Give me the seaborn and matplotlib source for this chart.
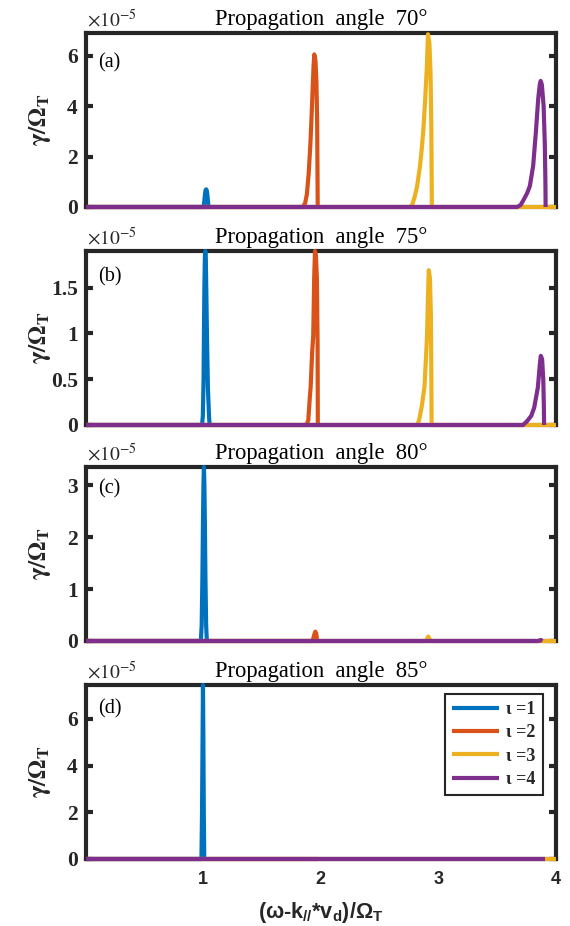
import matplotlib
matplotlib.use("Agg")
import matplotlib.pyplot as plt
import pandas as pd
import seaborn as sns

# ---- labels, colours, axes settings ----
modes = ["ι =1", "ι =2", "ι =3", "ι =4"]
colors = ["#0072BD", "#D95319", "#EDB120", "#7E2F8E"]
angles = [70, 75, 80, 85]
panel_tags = ["(a)", "(b)", "(c)", "(d)"]
y_tops = [6.9, 1.9, 3.35, 7.45]                      # in units of 1e-5
y_ticks = [[0, 2, 4, 6], [0, 0.5, 1, 1.5], [0, 1, 2, 3], [0, 2, 4, 6]]
y_tick_labels = [["0", "2", "4", "6"], ["0", "0.5", "1", "1.5"],
                 ["0", "1", "2", "3"], ["0", "2", "4", "6"]]
x_ticks = [1, 2, 3, 4]
x_tick_labels = ["1", "2", "3", "4"]

# ---- growth rate gamma/Omega_T (x1e-5) versus (w - k v_d)/Omega_T ----
# panel (a): 70 deg
a1_x = [0.01, 1.008, 1.015, 1.02, 1.025, 1.03, 1.035, 1.04, 1.045, 1.05]
a1_y = [0, 0, 0.25, 0.5, 0.66, 0.7, 0.66, 0.5, 0.25, 0]
a2_x = [0.01, 1.85, 1.87, 1.885, 1.90, 1.915, 1.925, 1.935, 1.942, 1.948,
        1.958, 1.966, 1.972, 1.975, 1.977]
a2_y = [0, 0, 0.15, 0.5, 1.3, 2.5, 3.6, 4.8, 5.6, 6.05, 5.8, 5.0, 3.5, 1.5, 0]
a3_x = [0.01, 2.76, 2.78, 2.80, 2.82, 2.845, 2.86, 2.873, 2.89, 2.904, 2.913,
        2.925, 2.935, 2.942, 2.946, 4.0]
a3_y = [0, 0, 0.1, 0.4, 0.8, 1.6, 2.3, 3.0, 4.3, 5.6, 6.85, 6.5, 5.3, 3.0, 0, 0]
a4_x = [0.01, 3.67, 3.70, 3.727, 3.755, 3.778, 3.806, 3.829, 3.849, 3.862,
        3.87, 3.88, 3.895, 3.905, 3.91, 3.912]
a4_y = [0, 0, 0.08, 0.3, 0.55, 0.83, 1.63, 2.96, 4.29, 4.85, 5.0, 4.85, 4.0,
        2.5, 1.0, 0]

# panel (b): 75 deg
b1_x = [0.01, 0.995, 1.002, 1.008, 1.011, 1.015, 1.019, 1.023, 1.027, 1.031,
        1.037, 1.045, 1.055, 1.06]
b1_y = [0, 0, 0.1, 0.5, 0.97, 1.5, 1.82, 1.9, 1.82, 1.5, 0.97, 0.4, 0.08, 0]
b2_x = [0.01, 1.88, 1.897, 1.91, 1.917, 1.93, 1.939, 1.947, 1.954, 1.962,
        1.97, 1.976, 1.978]
b2_y = [0, 0, 0.05, 0.3, 0.41, 0.8, 0.97, 1.6, 1.9, 1.85, 1.6, 0.9, 0]
b3_x = [0.01, 2.82, 2.837, 2.86, 2.883, 2.895, 2.905, 2.913, 2.92, 2.93,
        2.938, 2.942, 2.944, 4.0]
b3_y = [0, 0, 0.05, 0.2, 0.41, 0.7, 0.97, 1.4, 1.69, 1.6, 1.2, 0.5, 0, 0]
b4_x = [0.01, 3.72, 3.753, 3.79, 3.815, 3.846, 3.862, 3.871, 3.882, 3.892,
        3.897, 3.899]
b4_y = [0, 0, 0.04, 0.1, 0.19, 0.41, 0.65, 0.755, 0.72, 0.5, 0.2, 0]

# panel (c): 80 deg
c1_x = [0.01, 0.985, 0.992, 0.998, 1.003, 1.007, 1.011, 1.015, 1.019, 1.024,
        1.03, 1.036]
c1_y = [0, 0, 0.3, 1.2, 2.3, 3.0, 3.35, 3.0, 2.3, 1.2, 0.3, 0]
c2_x = [0.01, 1.93, 1.94, 1.95, 1.957, 1.965, 1.97, 1.972]
c2_y = [0, 0, 0.05, 0.14, 0.18, 0.14, 0.05, 0]
c3_x = [0.01, 2.895, 2.905, 2.915, 2.925, 2.93, 4.0]
c3_y = [0, 0, 0.04, 0.085, 0.05, 0, 0]
c4_x = [0.01, 3.85, 3.87, 3.885]
c4_y = [0, 0, 0.02, 0]

# panel (d): 85 deg
d1_x = [0.01, 0.99, 0.995, 1.0, 1.003, 1.006, 1.01, 1.014]
d1_y = [0, 0, 2.0, 5.5, 7.45, 5.5, 2.0, 0]
d2_x = [0.01, 1.98]
d2_y = [0, 0]
d3_x = [0.01, 4.0]
d3_y = [0, 0]
d4_x = [0.01, 3.91]
d4_y = [0, 0]

panel_series = [
    [(a1_x, a1_y), (a2_x, a2_y), (a3_x, a3_y), (a4_x, a4_y)],
    [(b1_x, b1_y), (b2_x, b2_y), (b3_x, b3_y), (b4_x, b4_y)],
    [(c1_x, c1_y), (c2_x, c2_y), (c3_x, c3_y), (c4_x, c4_y)],
    [(d1_x, d1_y), (d2_x, d2_y), (d3_x, d3_y), (d4_x, d4_y)],
]

# ---- style ----
sns.set_style("white")
plt.rcParams["font.family"] = ["Liberation Serif", "DejaVu Serif"]
plt.rcParams["mathtext.fontset"] = "custom"
plt.rcParams["mathtext.rm"] = "Liberation Sans"
plt.rcParams["mathtext.bf"] = "Liberation Sans:bold"
plt.rcParams["mathtext.it"] = "Liberation Sans:italic"
plt.rcParams["mathtext.sf"] = "Liberation Sans"

axis_color = "#262626"
W, H = 570, 926
fig = plt.figure(figsize=(W / 100, H / 100), dpi=100)

bottoms_px = [207, 425, 641, 859]
tag_y = [0.885, 0.905, 0.93, 0.92]
ax_left, ax_width, ax_height = 86, 470, 174

x_label = (r"$\mathbf{(\omega}$" + "-" + r"$\mathbf{k_{//}{*}v_d)/\Omega_T}$")

for i in range(4):
    ax = fig.add_axes([ax_left / W, 1 - bottoms_px[i] / H, ax_width / W, ax_height / H])

    frames = []
    for mode, (xs, ys) in zip(modes, panel_series[i]):
        frames.append(pd.DataFrame({"x": xs, "y": ys, "mode": mode}))
    df = pd.concat(frames, ignore_index=True)

    sns.lineplot(data=df, x="x", y="y", hue="mode", hue_order=modes,
                 palette=colors, sort=False, estimator=None, lw=3.0,
                 solid_capstyle="butt", solid_joinstyle="round",
                 legend=(i == 3), ax=ax)
    for ln in ax.lines:
        ln.set_clip_on(False)
        ln.set_zorder(3)

    ax.set_xlim(0.01, 4.0)
    ax.set_ylim(0, y_tops[i])

    for s in ax.spines.values():
        s.set_linewidth(3.0)
        s.set_color(axis_color)
        s.set_visible(True)

    ax.set_yticks(y_ticks[i], y_tick_labels[i], fontfamily="Liberation Serif",
                  fontweight="bold", fontsize=15.5)
    ax.tick_params(axis="y", which="both", direction="in", length=5, width=3,
                   left=True, right=True, color=axis_color,
                   labelcolor=axis_color, pad=6)
    if i == 3:
        ax.set_xticks(x_ticks, x_tick_labels, fontfamily="Liberation Sans",
                      fontweight="bold", fontsize=13)
        ax.tick_params(axis="x", length=0, pad=9, labelcolor=axis_color)
        ax.set_xlabel(x_label, fontsize=15.5, fontfamily="Liberation Sans",
                      fontweight="bold", color=axis_color, labelpad=8)
    else:
        ax.set_xticks(x_ticks)
        ax.tick_params(axis="x", length=0, labelbottom=False)
        ax.set_xlabel("")

    ax.set_ylabel(r"$\mathbf{\gamma/\Omega_T}$", fontsize=18,
                  math_fontfamily="stix", color=axis_color)
    ax.yaxis.set_label_coords(-0.07, 0.5)

    ax.set_title(f"Propagation  angle  {angles[i]}°", fontsize=16.3,
                 fontfamily="Liberation Serif", pad=6, color="black")
    ax.text(0.003, 1.012, r"$\times10^{-5}$", transform=ax.transAxes,
            ha="left", va="bottom", fontsize=14, math_fontfamily="stix",
            color=axis_color)
    ax.text(0.025, tag_y[i], panel_tags[i], transform=ax.transAxes,
            ha="left", va="top", fontsize=14.5, fontfamily="Liberation Serif",
            color="black")

    if i == 3:
        handles, labels = ax.get_legend_handles_labels()
        for h in handles:
            h.set_linewidth(3.0)
        leg = ax.legend(handles, labels, loc="upper right",
                        bbox_to_anchor=(0.972, 0.95), borderaxespad=0,
                        frameon=True, fancybox=False, framealpha=1,
                        edgecolor=axis_color, handlelength=2.6,
                        handletextpad=0.4, labelspacing=0.35, borderpad=0.4,
                        prop={"family": "Liberation Serif", "weight": "bold",
                              "size": 13})
        leg.get_frame().set_linewidth(1.5)

fig.savefig("out.png", dpi=100)
